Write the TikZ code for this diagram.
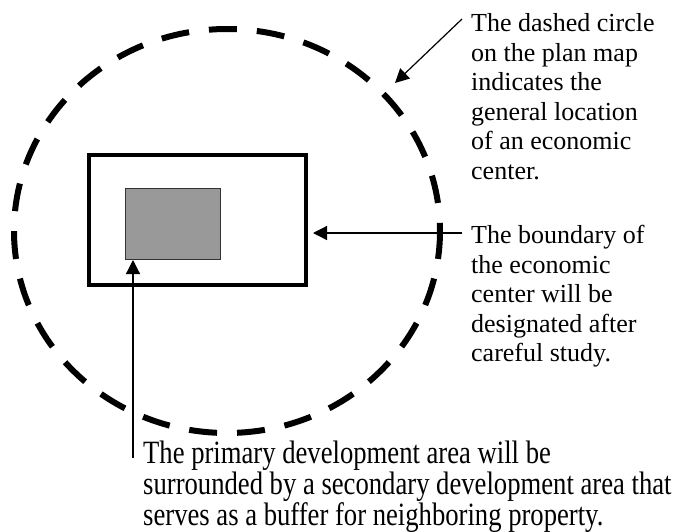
\documentclass[tikz,border=0pt]{standalone}
\usepackage{fontspec}
\setmainfont{Liberation Serif}
\newfontfamily\notefont{Liberation Serif}
\newfontfamily\condfont[FakeStretch=0.82]{Liberation Serif}
\usetikzlibrary{arrows.meta,positioning}
\definecolor{ZoneGray}{HTML}{999999}
\definecolor{ZoneEdge}{HTML}{333333}
\begin{document}
\begin{tikzpicture}[
    x=1pt,y=-1pt,
    zone/.style={draw=black,dash pattern=on 28pt off 20pt,line width=6pt},
    boundary/.style={draw=black,line width=4pt,minimum width=217pt,minimum height=130pt,inner sep=0pt},
    primary/.style={draw=ZoneEdge,fill=ZoneGray,line width=1pt,minimum width=95pt,minimum height=71pt,inner sep=0pt},
    note/.style={align=left,inner sep=0pt,anchor=north west,font=\notefont\fontsize{26}{29.5}\selectfont},
    widenote/.style={align=left,inner sep=0pt,anchor=north west,font=\condfont\fontsize{32.5}{28.5}\selectfont},
    arrow/.style={-{Triangle[length=14pt,width=14pt]},line width=1.2pt,draw=black}
  ]
  \useasboundingbox (0,0) rectangle (678,531);
  \draw[zone] (227,231) ellipse [x radius=213, y radius=202];
  \node[boundary] (center) at (197.5,220) {};
  \node[primary] (core) at (173,224) {};
  \node[note] (circlenote) at (471,13.5) {The dashed circle\\on the plan map\\indicates the\\general location\\of an economic\\center.};
  \node[note] (boundnote) at (471,225) {The boundary of\\the economic\\center will be\\designated after\\careful study.};
  \node[widenote] (corenote) at (143,441) {The primary development area will be\\surrounded by a secondary development area that\\serves as a buffer for neighboring property.};
  \coordinate (circlefrom) at (462,19);
  \coordinate (circleto) at (395,83);
  \coordinate (boundfrom) at (462,233);
  \coordinate (corefrom) at (133,458);
  \draw[arrow] (circlefrom) -- (circleto);
  \draw[arrow,shorten >=5pt] (boundfrom) -- (boundfrom -| center.east);
  \draw[arrow] (corefrom) -- (corefrom |- core.south);
\end{tikzpicture}
\end{document}
